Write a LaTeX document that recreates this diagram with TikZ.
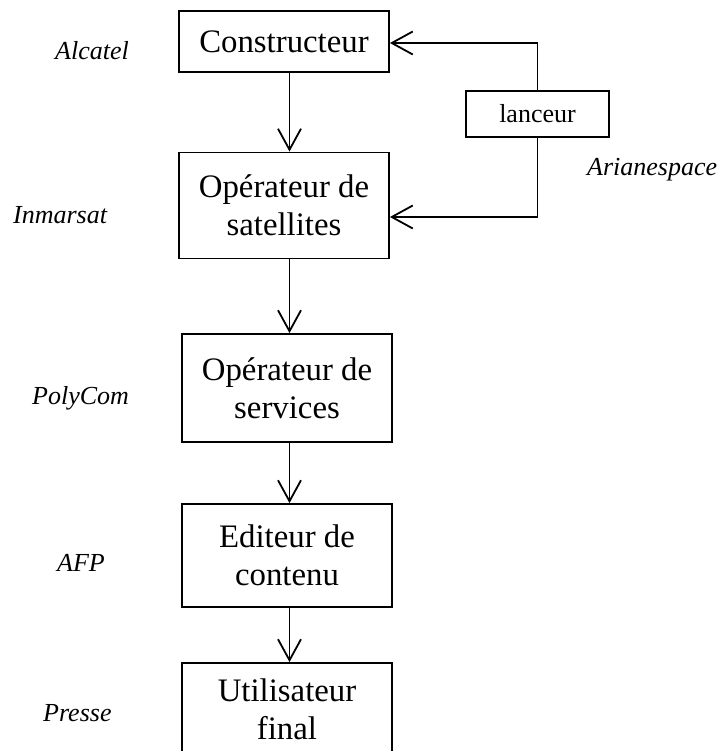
\documentclass[tikz,border=0pt]{standalone}
\usepackage{fontspec}
\setmainfont{Liberation Serif}
\usetikzlibrary{arrows.meta,calc}
\begin{document}
\begin{tikzpicture}[x=1pt,y=-1pt,
  box/.style={draw,line width=1.8pt,align=center,inner sep=0pt,
    font=\fontsize{32.8}{37.7}\selectfont},
  lbox/.style={draw,line width=1.8pt,align=center,inner sep=0pt,
    font=\fontsize{26}{30}\selectfont},
  who/.style={anchor=base west,inner sep=0pt,font=\fontsize{26}{30}\selectfont\itshape},
  arr/.style={line width=1.8pt,-{Straight Barb[length=21pt,width=23pt,line width=1.8pt]}}]
\path[use as bounding box,clip] (0,0) rectangle (721,751);
\fill[white] (0,0) rectangle (721,751);
\node[box,minimum width=210pt,minimum height=61pt] (b1) at (284,41.5) {Constructeur};
\node[box,minimum width=210pt,minimum height=106pt] (b2) at (284,205.5) {Opérateur de\\satellites};
\node[box,minimum width=210pt,minimum height=108pt] (b3) at (287,388) {Opérateur de\\services};
\node[box,minimum width=210pt,minimum height=103pt] (b4) at (287,555.5) {Editeur de\\contenu};
\node[box,minimum width=210pt,minimum height=92pt] (b5) at (287,709) {Utilisateur\\final};
\draw[line width=1.8pt] (b5.south west) -- ++(0,20) (b5.south east) -- ++(0,20);
\node[lbox,minimum width=143pt,minimum height=46pt] (l) at (537.5,114) {lanceur};
\coordinate (ax) at (289.5,0);
\draw[arr] (b1.south -| ax) -- (b2.north -| ax);
\draw[arr] (b2.south -| ax) -- (b3.north -| ax);
\draw[arr] (b3.south -| ax) -- (b4.north -| ax);
\draw[arr] (b4.south -| ax) -- (b5.north -| ax);
\draw[arr] (l.north) |- ([yshift=-1.5pt]b1.east);
\draw[arr] (l.south) |- ([yshift=-11.5pt]b2.east);
\node[who] (n1) at (55,60) {Alcatel};
\node[who] (n2) at (13,223) {Inmarsat};
\node[who] (n3) at (32,404) {PolyCom};
\node[who] (n4) at (57,571) {AFP};
\node[who] (n5) at (43,721) {Presse};
\node[who] (n6) at (587,176) {Arianespace};
\end{tikzpicture}
\end{document}
